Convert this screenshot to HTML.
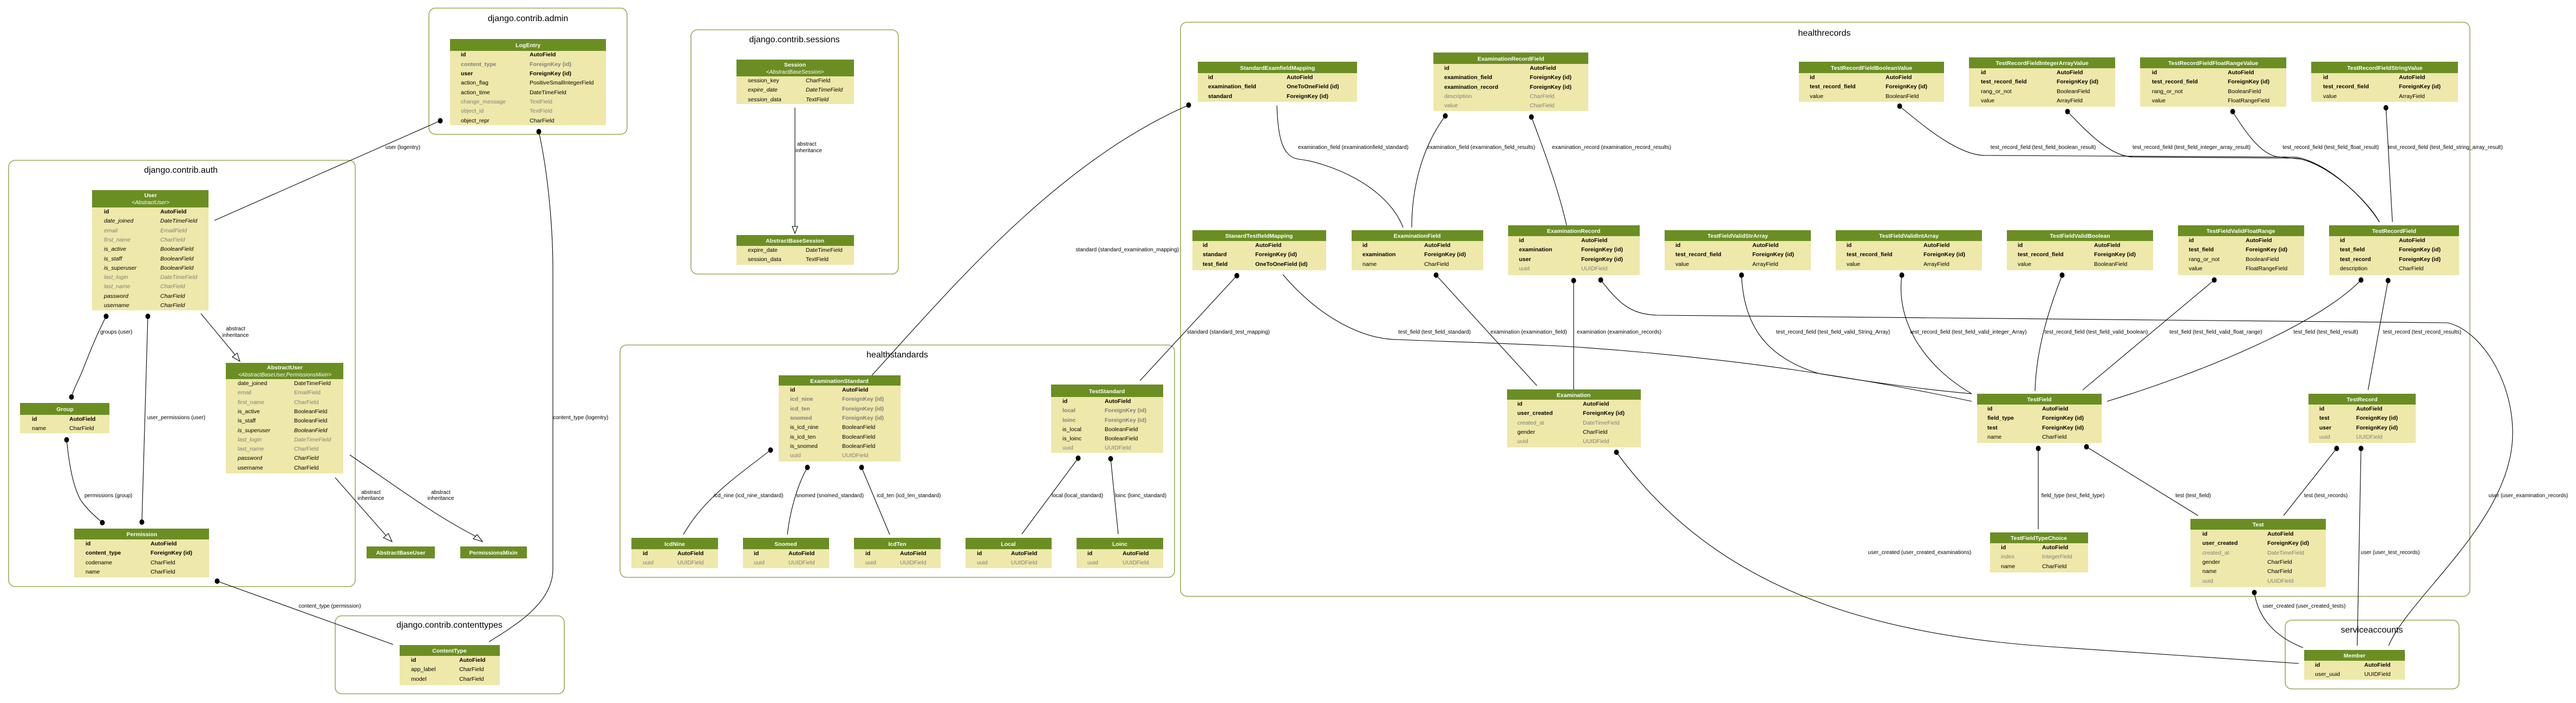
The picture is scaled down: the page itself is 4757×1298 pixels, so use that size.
<!DOCTYPE html>
<html><head><meta charset="utf-8"><style>
html,body{margin:0;padding:0;background:#fff;}
svg{display:block;font-family:"Liberation Sans",Arial,sans-serif;}
.t{font-size:10.5px;fill:#000;}
.b{font-weight:bold;}
.g{fill:#7f7f7f;}
.i{font-style:italic;}
.h{font-size:10.5px;font-weight:bold;fill:#fff;text-anchor:middle;}
.hs{font-size:10px;font-style:italic;fill:#fff;text-anchor:middle;}
.cl{fill:none;stroke:#98ac5a;stroke-width:1.6;}
.ct{font-size:16px;fill:#000;text-anchor:middle;}
.hd{fill:#6b8e23;}
.bd{fill:#eee8aa;}
.e{fill:none;stroke:#000;stroke-width:1.1;}
.l{font-size:10px;fill:#000;}
.lm{font-size:10px;fill:#000;text-anchor:middle;}
.le{font-size:10px;fill:#000;text-anchor:end;}
</style></head><body>
<svg width="4757" height="1298" viewBox="0 0 4757 1298" xmlns="http://www.w3.org/2000/svg">
<rect width="4757" height="1298" fill="#fff"/>

<!-- clusters -->
<rect class="cl" x="792" y="15" width="366" height="233" rx="12"/>
<text class="ct" x="975" y="39">django.contrib.admin</text>
<rect class="cl" x="1276" y="55" width="383" height="451" rx="12"/>
<text class="ct" x="1467" y="78">django.contrib.sessions</text>
<rect class="cl" x="16" y="296" width="640" height="787" rx="12"/>
<text class="ct" x="334" y="319">django.contrib.auth</text>
<rect class="cl" x="619" y="1137" width="423" height="144" rx="12"/>
<text class="ct" x="830" y="1159">django.contrib.contenttypes</text>
<rect class="cl" x="1145" y="637" width="1024" height="429" rx="12"/>
<text class="ct" x="1657" y="660">healthstandards</text>
<rect class="cl" x="2180" y="41" width="2381" height="1060" rx="12"/>
<text class="ct" x="3369" y="66">healthrecords</text>
<rect class="cl" x="4220" y="1145" width="321" height="127" rx="12"/>
<text class="ct" x="4380" y="1168">serviceaccounts</text>

<!-- edges -->
<g class="e">
<path d="M813,223 L396,407"/>
<path d="M995,243 C1012,320 1021,420 1021,497 L1021,1051 C1021,1110 960,1150 903,1185"/>
<path d="M1468,199 L1468,418"/>
<path d="M196,584 C175,625 160,665 150,690 C140,712 135,722 132,733"/>
<path d="M273,584 L262,964"/>
<path d="M371,579 L434,655"/>
<path d="M123,812 C128,860 135,900 150,925 C165,945 178,955 189,965"/>
<path d="M619,882 L713,989"/>
<path d="M646,840 C720,890 800,950 878,990"/>
<path d="M401,1073 L726,1190"/>
<path d="M1423,831 C1360,880 1300,920 1262,987"/>
<path d="M1491,863 C1470,900 1458,950 1454,987"/>
<path d="M1591,863 L1643,987"/>
<path d="M1991,846 L1887,986"/>
<path d="M2051,847 L2065,986"/>
<path d="M1610,693 C1750,540 1950,300 2195,194"/>
<path d="M2284,509 L2105,703"/>
<path d="M2358,195 C2360,260 2370,290 2399,294 C2450,300 2560,340 2591,420"/>
<path d="M2669,214 C2620,280 2607,360 2607,420"/>
<path d="M2828,216 C2860,300 2880,360 2893,416"/>
<path d="M3508,196 C3560,240 3620,287 3666,287 L4240,290 C4300,300 4370,370 4394,410"/>
<path d="M3818,206 C3860,250 3900,290 3941,290 L4240,292 C4300,300 4370,370 4394,410"/>
<path d="M4123,206 C4150,250 4180,290 4212,290 L4250,294 C4310,310 4375,375 4394,410"/>
<path d="M4406,199 L4418,410"/>
<path d="M2369,507 C2440,590 2520,627 2582,627 C2700,632 2765,633 2900,640 C3200,660 3450,700 3641,741"/>
<path d="M2652,508 L2838,712"/>
<path d="M2906,518 L2906,719"/>
<path d="M2956,517 C2990,560 3010,580 3060,582 L4520,596 C4580,610 4640,700 4640,800 C4640,960 4450,1100 4411,1192"/>
<path d="M3216,508 C3220,600 3260,660 3360,690 C3450,705 3560,720 3641,727"/>
<path d="M3512,508 C3500,600 3560,680 3641,727"/>
<path d="M3808,508 C3780,580 3760,650 3758,722"/>
<path d="M4089,517 L3846,720"/>
<path d="M4360,517 C4280,600 4060,690 3891,741"/>
<path d="M4410,518 L4373,720"/>
<path d="M3764,828 L3764,977"/>
<path d="M3853,825 L4059,952"/>
<path d="M4315,828 L4217,952"/>
<path d="M4360,828 L4353,1192"/>
<path d="M2985,835 C3150,1060 3400,1170 3800,1195 L4245,1225"/>
<path d="M4163,1094 C4170,1140 4200,1175 4253,1196"/>
</g>
<!-- dots -->
<g fill="#000">
<ellipse cx="813" cy="223" rx="4.5" ry="5"/>
<ellipse cx="995" cy="243" rx="4.5" ry="5"/>
<ellipse cx="196" cy="584" rx="4.5" ry="5"/>
<ellipse cx="132" cy="733" rx="4.5" ry="5"/>
<ellipse cx="273" cy="584" rx="4.5" ry="5"/>
<ellipse cx="262" cy="964" rx="4.5" ry="5"/>
<ellipse cx="123" cy="812" rx="4.5" ry="5"/>
<ellipse cx="189" cy="965" rx="4.5" ry="5"/>
<ellipse cx="401" cy="1073" rx="4.5" ry="5"/>
<ellipse cx="1423" cy="831" rx="4.5" ry="5"/>
<ellipse cx="1491" cy="863" rx="4.5" ry="5"/>
<ellipse cx="1591" cy="863" rx="4.5" ry="5"/>
<ellipse cx="1991" cy="846" rx="4.5" ry="5"/>
<ellipse cx="2051" cy="847" rx="4.5" ry="5"/>
<ellipse cx="2195" cy="194" rx="4.5" ry="5"/>
<ellipse cx="2284" cy="509" rx="4.5" ry="5"/>
<ellipse cx="2669" cy="214" rx="4.5" ry="5"/>
<ellipse cx="2828" cy="216" rx="4.5" ry="5"/>
<ellipse cx="3508" cy="196" rx="4.5" ry="5"/>
<ellipse cx="3818" cy="206" rx="4.5" ry="5"/>
<ellipse cx="4123" cy="206" rx="4.5" ry="5"/>
<ellipse cx="4406" cy="199" rx="4.5" ry="5"/>
<ellipse cx="2652" cy="508" rx="4.5" ry="5"/>
<ellipse cx="2906" cy="518" rx="4.5" ry="5"/>
<ellipse cx="2956" cy="517" rx="4.5" ry="5"/>
<ellipse cx="3216" cy="508" rx="4.5" ry="5"/>
<ellipse cx="3512" cy="508" rx="4.5" ry="5"/>
<ellipse cx="3808" cy="508" rx="4.5" ry="5"/>
<ellipse cx="4089" cy="517" rx="4.5" ry="5"/>
<ellipse cx="4360" cy="517" rx="4.5" ry="5"/>
<ellipse cx="4410" cy="518" rx="4.5" ry="5"/>
<ellipse cx="3764" cy="828" rx="4.5" ry="5"/>
<ellipse cx="3853" cy="825" rx="4.5" ry="5"/>
<ellipse cx="4315" cy="828" rx="4.5" ry="5"/>
<ellipse cx="4360" cy="828" rx="4.5" ry="5"/>
<ellipse cx="2985" cy="835" rx="4.5" ry="5"/>
<ellipse cx="4163" cy="1094" rx="4.5" ry="5"/>
</g>
<!-- hollow arrows -->
<g fill="#fff" stroke="#000" stroke-width="1.1">
<polygon points="1463,418 1473,418 1468,431"/>
<polygon points="429,659 438,652 443,667"/>
<polygon points="708,993 717,985 724,1000"/>
<polygon points="874,995 881,987 891,1000"/>
</g>

<!-- edge labels -->
<text class="lm" x="744" y="275">user (logentry)</text>
<text class="l" x="1021" y="774">content_type (logentry)</text>
<text class="l" x="1472" y="269">abstract</text><text class="l" x="1469" y="281">inheritance</text>
<text class="l" x="185" y="616">groups (user)</text>
<text class="l" x="272" y="774">user_permissions (user)</text>
<text class="lm" x="435" y="610">abstract</text><text class="lm" x="435" y="622">inheritance</text>
<text class="l" x="156" y="918">permissions (group)</text>
<text class="lm" x="685" y="912">abstract</text><text class="lm" x="685" y="923">inheritance</text>
<text class="lm" x="814" y="912">abstract</text><text class="lm" x="814" y="923">inheritance</text>
<text class="lm" x="609" y="1122">content_type (permission)</text>
<text class="l" x="1318" y="918">icd_nine (icd_nine_standard)</text>
<text class="l" x="1470" y="918">snomed (snomed_standard)</text>
<text class="l" x="1619" y="918">icd_ten (icd_ten_standard)</text>
<text class="l" x="1942" y="918">local (local_standard)</text>
<text class="l" x="2059" y="918">loinc (loinc_standard)</text>
<text class="le" x="2177" y="464">standard (standard_examination_mapping)</text>
<text class="l" x="2192" y="616">standard (standard_test_mapping)</text>
<text class="lm" x="2499" y="275">examination_field (examinationfield_standard)</text>
<text class="lm" x="2735" y="275">examination_field (examination_field_results)</text>
<text class="lm" x="2976" y="275">examination_record (examination_record_results)</text>
<text class="lm" x="3773" y="275">test_record_field (test_field_boolean_result)</text>
<text class="lm" x="4047" y="275">test_record_field (test_field_integer_array_result)</text>
<text class="lm" x="4304" y="275">test_record_field (test_field_float_result)</text>
<text class="l" x="4410" y="275">test_record_field (test_field_string_array_result)</text>
<text class="lm" x="2649" y="616">test_field (test_field_standard)</text>
<text class="lm" x="2823" y="616">examination (examination_field)</text>
<text class="lm" x="2990" y="616">examination (examination_records)</text>
<text class="lm" x="3385" y="616">test_record_field (test_field_valid_String_Array)</text>
<text class="lm" x="3635" y="616">test_record_field (test_field_valid_integer_Array)</text>
<text class="lm" x="3871" y="616">test_record_field (test_field_valid_boolean)</text>
<text class="lm" x="4092" y="616">test_field (test_field_valid_float_range)</text>
<text class="lm" x="4295" y="616">test_field (test_field_result)</text>
<text class="lm" x="4473" y="616">test_record (test_record_results)</text>
<text class="lm" x="4669" y="918">user (user_examination_records)</text>
<text class="lm" x="3828" y="918">field_type (test_field_type)</text>
<text class="lm" x="4050" y="918">test (test_field)</text>
<text class="lm" x="4295" y="918">test (test_records)</text>
<text class="lm" x="4414" y="1023">user (user_test_records)</text>
<text class="lm" x="3545" y="1023">user_created (user_created_examinations)</text>
<text class="lm" x="4255" y="1122">user_created (user_created_tests)</text>

<!-- ============ TABLES ============ -->
<!-- LogEntry -->
<rect class="hd" x="831" y="72" width="288" height="22"/><rect class="bd" x="831" y="94" width="288" height="137"/>
<text class="h" x="975" y="87">LogEntry</text>
<text class="t b" x="851" y="104">id</text><text class="t b" x="978" y="104">AutoField</text>
<text class="t b g" x="851" y="122">content_type</text><text class="t b g" x="978" y="122">ForeignKey (id)</text>
<text class="t b" x="851" y="139">user</text><text class="t b" x="978" y="139">ForeignKey (id)</text>
<text class="t" x="851" y="156">action_flag</text><text class="t" x="978" y="156">PositiveSmallIntegerField</text>
<text class="t" x="851" y="174">action_time</text><text class="t" x="978" y="174">DateTimeField</text>
<text class="t g" x="851" y="191">change_message</text><text class="t g" x="978" y="191">TextField</text>
<text class="t g" x="851" y="208">object_id</text><text class="t g" x="978" y="208">TextField</text>
<text class="t" x="851" y="226">object_repr</text><text class="t" x="978" y="226">CharField</text>

<!-- Session -->
<rect class="hd" x="1360" y="110" width="217" height="31"/><rect class="bd" x="1360" y="141" width="217" height="51"/>
<text class="h" x="1468" y="123">Session</text><text class="hs" x="1468" y="136">&lt;AbstractBaseSession&gt;</text>
<text class="t" x="1381" y="152">session_key</text><text class="t" x="1488" y="152">CharField</text>
<text class="t i" x="1381" y="169">expire_date</text><text class="t i" x="1488" y="169">DateTimeField</text>
<text class="t i" x="1381" y="187">session_data</text><text class="t i" x="1488" y="187">TextField</text>

<!-- AbstractBaseSession -->
<rect class="hd" x="1360" y="434" width="217" height="20"/><rect class="bd" x="1360" y="454" width="217" height="35"/>
<text class="h" x="1468" y="448">AbstractBaseSession</text>
<text class="t" x="1381" y="465">expire_date</text><text class="t" x="1488" y="465">DateTimeField</text>
<text class="t" x="1381" y="482">session_data</text><text class="t" x="1488" y="482">TextField</text>

<!-- User -->
<rect class="hd" x="170" y="351" width="215" height="32"/><rect class="bd" x="170" y="383" width="215" height="190"/>
<text class="h" x="278" y="364">User</text><text class="hs" x="278" y="377">&lt;AbstractUser&gt;</text>
<text class="t b" x="192" y="394">id</text><text class="t b" x="296" y="394">AutoField</text>
<text class="t i" x="192" y="411">date_joined</text><text class="t i" x="296" y="411">DateTimeField</text>
<text class="t i g" x="192" y="429">email</text><text class="t i g" x="296" y="429">EmailField</text>
<text class="t i g" x="192" y="446">first_name</text><text class="t i g" x="296" y="446">CharField</text>
<text class="t i" x="192" y="463">is_active</text><text class="t i" x="296" y="463">BooleanField</text>
<text class="t i" x="192" y="481">is_staff</text><text class="t i" x="296" y="481">BooleanField</text>
<text class="t i" x="192" y="498">is_superuser</text><text class="t i" x="296" y="498">BooleanField</text>
<text class="t i g" x="192" y="515">last_login</text><text class="t i g" x="296" y="515">DateTimeField</text>
<text class="t i g" x="192" y="532">last_name</text><text class="t i g" x="296" y="532">CharField</text>
<text class="t i" x="192" y="550">password</text><text class="t i" x="296" y="550">CharField</text>
<text class="t i" x="192" y="567">username</text><text class="t i" x="296" y="567">CharField</text>

<!-- Group -->
<rect class="hd" x="37" y="744" width="165" height="22"/><rect class="bd" x="37" y="766" width="165" height="34"/>
<text class="h" x="120" y="759">Group</text>
<text class="t b" x="59" y="777">id</text><text class="t b" x="128" y="777">AutoField</text>
<text class="t" x="59" y="794">name</text><text class="t" x="128" y="794">CharField</text>

<!-- AbstractUser -->
<rect class="hd" x="417" y="670" width="217" height="30"/><rect class="bd" x="417" y="700" width="217" height="174"/>
<text class="h" x="526" y="682">AbstractUser</text><text class="hs" x="526" y="695">&lt;AbstractBaseUser,PermissionsMixin&gt;</text>
<text class="t" x="439" y="711">date_joined</text><text class="t" x="543" y="711">DateTimeField</text>
<text class="t g" x="439" y="728">email</text><text class="t g" x="543" y="728">EmailField</text>
<text class="t g" x="439" y="746">first_name</text><text class="t g" x="543" y="746">CharField</text>
<text class="t" x="439" y="763">is_active</text><text class="t" x="543" y="763">BooleanField</text>
<text class="t" x="439" y="780">is_staff</text><text class="t" x="543" y="780">BooleanField</text>
<text class="t i" x="439" y="798">is_superuser</text><text class="t i" x="543" y="798">BooleanField</text>
<text class="t i g" x="439" y="815">last_login</text><text class="t i g" x="543" y="815">DateTimeField</text>
<text class="t g" x="439" y="832">last_name</text><text class="t g" x="543" y="832">CharField</text>
<text class="t i" x="439" y="849">password</text><text class="t i" x="543" y="849">CharField</text>
<text class="t" x="439" y="867">username</text><text class="t" x="543" y="867">CharField</text>

<!-- Permission -->
<rect class="hd" x="137" y="976" width="249" height="20"/><rect class="bd" x="137" y="996" width="249" height="70"/>
<text class="h" x="262" y="990">Permission</text>
<text class="t b" x="158" y="1007">id</text><text class="t b" x="278" y="1007">AutoField</text>
<text class="t b" x="158" y="1024">content_type</text><text class="t b" x="278" y="1024">ForeignKey (id)</text>
<text class="t" x="158" y="1042">codename</text><text class="t" x="278" y="1042">CharField</text>
<text class="t" x="158" y="1059">name</text><text class="t" x="278" y="1059">CharField</text>

<!-- AbstractBaseUser / PermissionsMixin -->
<rect class="hd" x="677" y="1009" width="126" height="22"/><text class="h" x="740" y="1024">AbstractBaseUser</text>
<rect class="hd" x="850" y="1009" width="123" height="22"/><text class="h" x="911" y="1024">PermissionsMixin</text>

<!-- ContentType -->
<rect class="hd" x="738" y="1191" width="185" height="20"/><rect class="bd" x="738" y="1211" width="185" height="54"/>
<text class="h" x="830" y="1205">ContentType</text>
<text class="t b" x="759" y="1222">id</text><text class="t b" x="848" y="1222">AutoField</text>
<text class="t" x="759" y="1239">app_label</text><text class="t" x="848" y="1239">CharField</text>
<text class="t" x="759" y="1257">model</text><text class="t" x="848" y="1257">CharField</text>

<!-- ExaminationStandard -->
<rect class="hd" x="1438" y="693" width="225" height="19"/><rect class="bd" x="1438" y="712" width="225" height="140"/>
<text class="h" x="1550" y="707">ExaminationStandard</text>
<text class="t b" x="1459" y="723">id</text><text class="t b" x="1555" y="723">AutoField</text>
<text class="t b g" x="1459" y="740">icd_nine</text><text class="t b g" x="1555" y="740">ForeignKey (id)</text>
<text class="t b g" x="1459" y="758">icd_ten</text><text class="t b g" x="1555" y="758">ForeignKey (id)</text>
<text class="t b g" x="1459" y="775">snomed</text><text class="t b g" x="1555" y="775">ForeignKey (id)</text>
<text class="t" x="1459" y="792">is_icd_nine</text><text class="t" x="1555" y="792">BooleanField</text>
<text class="t" x="1459" y="810">is_icd_ten</text><text class="t" x="1555" y="810">BooleanField</text>
<text class="t" x="1459" y="827">is_snomed</text><text class="t" x="1555" y="827">BooleanField</text>
<text class="t g" x="1459" y="844">uuid</text><text class="t g" x="1555" y="844">UUIDField</text>

<!-- IcdNine, Snomed, IcdTen, Local, Loinc -->
<rect class="hd" x="1166" y="993" width="160" height="21"/><rect class="bd" x="1166" y="1014" width="160" height="35"/>
<text class="h" x="1246" y="1008">IcdNine</text>
<text class="t b" x="1187" y="1025">id</text><text class="t b" x="1251" y="1025">AutoField</text>
<text class="t g" x="1187" y="1042">uuid</text><text class="t g" x="1251" y="1042">UUIDField</text>
<rect class="hd" x="1372" y="993" width="159" height="21"/><rect class="bd" x="1372" y="1014" width="159" height="35"/>
<text class="h" x="1451" y="1008">Snomed</text>
<text class="t b" x="1392" y="1025">id</text><text class="t b" x="1456" y="1025">AutoField</text>
<text class="t g" x="1392" y="1042">uuid</text><text class="t g" x="1456" y="1042">UUIDField</text>
<rect class="hd" x="1577" y="993" width="160" height="21"/><rect class="bd" x="1577" y="1014" width="160" height="35"/>
<text class="h" x="1657" y="1008">IcdTen</text>
<text class="t b" x="1598" y="1025">id</text><text class="t b" x="1662" y="1025">AutoField</text>
<text class="t g" x="1598" y="1042">uuid</text><text class="t g" x="1662" y="1042">UUIDField</text>
<rect class="hd" x="1783" y="993" width="159" height="21"/><rect class="bd" x="1783" y="1014" width="159" height="35"/>
<text class="h" x="1862" y="1008">Local</text>
<text class="t b" x="1804" y="1025">id</text><text class="t b" x="1867" y="1025">AutoField</text>
<text class="t g" x="1804" y="1042">uuid</text><text class="t g" x="1867" y="1042">UUIDField</text>
<rect class="hd" x="1988" y="993" width="160" height="21"/><rect class="bd" x="1988" y="1014" width="160" height="35"/>
<text class="h" x="2068" y="1008">Loinc</text>
<text class="t b" x="2008" y="1025">id</text><text class="t b" x="2073" y="1025">AutoField</text>
<text class="t g" x="2008" y="1042">uuid</text><text class="t g" x="2073" y="1042">UUIDField</text>

<!-- TestStandard -->
<rect class="hd" x="1941" y="710" width="207" height="23"/><rect class="bd" x="1941" y="733" width="207" height="103"/>
<text class="h" x="2044" y="726">TestStandard</text>
<text class="t b" x="1962" y="744">id</text><text class="t b" x="2040" y="744">AutoField</text>
<text class="t b g" x="1962" y="761">local</text><text class="t b g" x="2040" y="761">ForeignKey (id)</text>
<text class="t b g" x="1962" y="779">loinc</text><text class="t b g" x="2040" y="779">ForeignKey (id)</text>
<text class="t" x="1962" y="796">is_local</text><text class="t" x="2040" y="796">BooleanField</text>
<text class="t" x="1962" y="813">is_loinc</text><text class="t" x="2040" y="813">BooleanField</text>
<text class="t g" x="1962" y="830">uuid</text><text class="t g" x="2040" y="830">UUIDField</text>

<!-- StandardExamfieldMapping -->
<rect class="hd" x="2212" y="114" width="294" height="21"/><rect class="bd" x="2212" y="135" width="294" height="53"/>
<text class="h" x="2359" y="129">StandardExamfieldMapping</text>
<text class="t b" x="2231" y="146">id</text><text class="t b" x="2376" y="146">AutoField</text>
<text class="t b" x="2231" y="163">examination_field</text><text class="t b" x="2376" y="163">OneToOneField (id)</text>
<text class="t b" x="2231" y="181">standard</text><text class="t b" x="2376" y="181">ForeignKey (id)</text>

<!-- ExaminationRecordField -->
<rect class="hd" x="2647" y="97" width="286" height="21"/><rect class="bd" x="2647" y="118" width="286" height="87"/>
<text class="h" x="2790" y="112">ExaminationRecordField</text>
<text class="t b" x="2667" y="129">id</text><text class="t b" x="2825" y="129">AutoField</text>
<text class="t b" x="2667" y="146">examination_field</text><text class="t b" x="2825" y="146">ForeignKey (id)</text>
<text class="t b" x="2667" y="164">examination_record</text><text class="t b" x="2825" y="164">ForeignKey (id)</text>
<text class="t g" x="2667" y="181">description</text><text class="t g" x="2825" y="181">CharField</text>
<text class="t g" x="2667" y="198">value</text><text class="t g" x="2825" y="198">CharField</text>

<!-- TestRecordFieldBooleanValue -->
<rect class="hd" x="3322" y="114" width="268" height="21"/><rect class="bd" x="3322" y="135" width="268" height="53"/>
<text class="h" x="3456" y="129">TestRecordFieldBooleanValue</text>
<text class="t b" x="3342" y="146">id</text><text class="t b" x="3482" y="146">AutoField</text>
<text class="t b" x="3342" y="163">test_record_field</text><text class="t b" x="3482" y="163">ForeignKey (id)</text>
<text class="t" x="3342" y="181">value</text><text class="t" x="3482" y="181">BooleanField</text>

<!-- TestRecordFieldIntegerArrayValue -->
<rect class="hd" x="3636" y="106" width="270" height="20"/><rect class="bd" x="3636" y="126" width="270" height="71"/>
<text class="h" x="3771" y="120">TestRecordFieldIntegerArrayValue</text>
<text class="t b" x="3658" y="137">id</text><text class="t b" x="3798" y="137">AutoField</text>
<text class="t b" x="3658" y="154">test_record_field</text><text class="t b" x="3798" y="154">ForeignKey (id)</text>
<text class="t" x="3658" y="172">rang_or_not</text><text class="t" x="3798" y="172">BooleanField</text>
<text class="t" x="3658" y="189">value</text><text class="t" x="3798" y="189">ArrayField</text>

<!-- TestRecordFieldFloatRangeValue -->
<rect class="hd" x="3952" y="106" width="270" height="20"/><rect class="bd" x="3952" y="126" width="270" height="71"/>
<text class="h" x="4087" y="120">TestRecordFieldFloatRangeValue</text>
<text class="t b" x="3974" y="137">id</text><text class="t b" x="4114" y="137">AutoField</text>
<text class="t b" x="3974" y="154">test_record_field</text><text class="t b" x="4114" y="154">ForeignKey (id)</text>
<text class="t" x="3974" y="172">rang_or_not</text><text class="t" x="4114" y="172">BooleanField</text>
<text class="t" x="3974" y="189">value</text><text class="t" x="4114" y="189">FloatRangeField</text>

<!-- TestRecordFieldStringValue -->
<rect class="hd" x="4268" y="114" width="271" height="21"/><rect class="bd" x="4268" y="135" width="271" height="53"/>
<text class="h" x="4404" y="129">TestRecordFieldStringValue</text>
<text class="t b" x="4290" y="146">id</text><text class="t b" x="4430" y="146">AutoField</text>
<text class="t b" x="4290" y="163">test_record_field</text><text class="t b" x="4430" y="163">ForeignKey (id)</text>
<text class="t" x="4290" y="181">value</text><text class="t" x="4430" y="181">ArrayField</text>

<!-- StanardTestfieldMapping -->
<rect class="hd" x="2202" y="425" width="247" height="20"/><rect class="bd" x="2202" y="445" width="247" height="54"/>
<text class="h" x="2325" y="439">StanardTestfieldMapping</text>
<text class="t b" x="2221" y="456">id</text><text class="t b" x="2318" y="456">AutoField</text>
<text class="t b" x="2221" y="473">standard</text><text class="t b" x="2318" y="473">ForeignKey (id)</text>
<text class="t b" x="2221" y="491">test_field</text><text class="t b" x="2318" y="491">OneToOneField (id)</text>

<!-- ExaminationField -->
<rect class="hd" x="2496" y="425" width="243" height="20"/><rect class="bd" x="2496" y="445" width="243" height="54"/>
<text class="h" x="2617" y="439">ExaminationField</text>
<text class="t b" x="2516" y="456">id</text><text class="t b" x="2630" y="456">AutoField</text>
<text class="t b" x="2516" y="473">examination</text><text class="t b" x="2630" y="473">ForeignKey (id)</text>
<text class="t" x="2516" y="491">name</text><text class="t" x="2630" y="491">CharField</text>

<!-- ExaminationRecord -->
<rect class="hd" x="2785" y="416" width="243" height="20"/><rect class="bd" x="2785" y="436" width="243" height="72"/>
<text class="h" x="2906" y="430">ExaminationRecord</text>
<text class="t b" x="2805" y="447">id</text><text class="t b" x="2920" y="447">AutoField</text>
<text class="t b" x="2805" y="464">examination</text><text class="t b" x="2920" y="464">ForeignKey (id)</text>
<text class="t b" x="2805" y="482">user</text><text class="t b" x="2920" y="482">ForeignKey (id)</text>
<text class="t g" x="2805" y="499">uuid</text><text class="t g" x="2920" y="499">UUIDField</text>

<!-- TestFieldValidStrArray -->
<rect class="hd" x="3074" y="425" width="270" height="20"/><rect class="bd" x="3074" y="445" width="270" height="54"/>
<text class="h" x="3209" y="439">TestFieldValidStrArray</text>
<text class="t b" x="3094" y="456">id</text><text class="t b" x="3236" y="456">AutoField</text>
<text class="t b" x="3094" y="473">test_record_field</text><text class="t b" x="3236" y="473">ForeignKey (id)</text>
<text class="t" x="3094" y="491">value</text><text class="t" x="3236" y="491">ArrayField</text>

<!-- TestFieldValidIntArray -->
<rect class="hd" x="3390" y="425" width="270" height="20"/><rect class="bd" x="3390" y="445" width="270" height="54"/>
<text class="h" x="3525" y="439">TestFieldValidIntArray</text>
<text class="t b" x="3410" y="456">id</text><text class="t b" x="3552" y="456">AutoField</text>
<text class="t b" x="3410" y="473">test_record_field</text><text class="t b" x="3552" y="473">ForeignKey (id)</text>
<text class="t" x="3410" y="491">value</text><text class="t" x="3552" y="491">ArrayField</text>

<!-- TestFieldValidBoolean -->
<rect class="hd" x="3706" y="425" width="270" height="20"/><rect class="bd" x="3706" y="445" width="270" height="54"/>
<text class="h" x="3841" y="439">TestFieldValidBoolean</text>
<text class="t b" x="3726" y="456">id</text><text class="t b" x="3867" y="456">AutoField</text>
<text class="t b" x="3726" y="473">test_record_field</text><text class="t b" x="3867" y="473">ForeignKey (id)</text>
<text class="t" x="3726" y="491">value</text><text class="t" x="3867" y="491">BooleanField</text>

<!-- TestFieldValidFloatRange -->
<rect class="hd" x="4022" y="416" width="233" height="20"/><rect class="bd" x="4022" y="436" width="233" height="72"/>
<text class="h" x="4138" y="430">TestFieldValidFloatRange</text>
<text class="t b" x="4042" y="447">id</text><text class="t b" x="4147" y="447">AutoField</text>
<text class="t b" x="4042" y="464">test_field</text><text class="t b" x="4147" y="464">ForeignKey (id)</text>
<text class="t" x="4042" y="482">rang_or_not</text><text class="t" x="4147" y="482">BooleanField</text>
<text class="t" x="4042" y="499">value</text><text class="t" x="4147" y="499">FloatRangeField</text>

<!-- TestRecordField -->
<rect class="hd" x="4301" y="416" width="240" height="20"/><rect class="bd" x="4301" y="436" width="240" height="72"/>
<text class="h" x="4421" y="430">TestRecordField</text>
<text class="t b" x="4321" y="447">id</text><text class="t b" x="4430" y="447">AutoField</text>
<text class="t b" x="4321" y="464">test_field</text><text class="t b" x="4430" y="464">ForeignKey (id)</text>
<text class="t b" x="4321" y="482">test_record</text><text class="t b" x="4430" y="482">ForeignKey (id)</text>
<text class="t" x="4321" y="499">description</text><text class="t" x="4430" y="499">CharField</text>

<!-- Examination -->
<rect class="hd" x="2783" y="719" width="247" height="19"/><rect class="bd" x="2783" y="738" width="247" height="88"/>
<text class="h" x="2906" y="733">Examination</text>
<text class="t b" x="2802" y="749">id</text><text class="t b" x="2923" y="749">AutoField</text>
<text class="t b" x="2802" y="766">user_created</text><text class="t b" x="2923" y="766">ForeignKey (id)</text>
<text class="t g" x="2802" y="784">created_at</text><text class="t g" x="2923" y="784">DateTimeField</text>
<text class="t" x="2802" y="801">gender</text><text class="t" x="2923" y="801">CharField</text>
<text class="t g" x="2802" y="818">uuid</text><text class="t g" x="2923" y="818">UUIDField</text>

<!-- TestField -->
<rect class="hd" x="3651" y="727" width="230" height="20"/><rect class="bd" x="3651" y="747" width="230" height="71"/>
<text class="h" x="3766" y="741">TestField</text>
<text class="t b" x="3670" y="758">id</text><text class="t b" x="3771" y="758">AutoField</text>
<text class="t b" x="3670" y="775">field_type</text><text class="t b" x="3771" y="775">ForeignKey (id)</text>
<text class="t b" x="3670" y="793">test</text><text class="t b" x="3771" y="793">ForeignKey (id)</text>
<text class="t" x="3670" y="810">name</text><text class="t" x="3771" y="810">CharField</text>

<!-- TestRecord -->
<rect class="hd" x="4263" y="727" width="198" height="20"/><rect class="bd" x="4263" y="747" width="198" height="71"/>
<text class="h" x="4362" y="741">TestRecord</text>
<text class="t b" x="4283" y="758">id</text><text class="t b" x="4351" y="758">AutoField</text>
<text class="t b" x="4283" y="775">test</text><text class="t b" x="4351" y="775">ForeignKey (id)</text>
<text class="t b" x="4283" y="793">user</text><text class="t b" x="4351" y="793">ForeignKey (id)</text>
<text class="t g" x="4283" y="810">uuid</text><text class="t g" x="4351" y="810">UUIDField</text>

<!-- TestFieldTypeChoice -->
<rect class="hd" x="3675" y="983" width="181" height="20"/><rect class="bd" x="3675" y="1003" width="181" height="54"/>
<text class="h" x="3765" y="997">TestFieldTypeChoice</text>
<text class="t b" x="3695" y="1014">id</text><text class="t b" x="3771" y="1014">AutoField</text>
<text class="t g" x="3695" y="1031">index</text><text class="t g" x="3771" y="1031">IntegerField</text>
<text class="t" x="3695" y="1049">name</text><text class="t" x="3771" y="1049">CharField</text>

<!-- Test -->
<rect class="hd" x="4045" y="958" width="250" height="20"/><rect class="bd" x="4045" y="978" width="250" height="106"/>
<text class="h" x="4170" y="972">Test</text>
<text class="t b" x="4067" y="989">id</text><text class="t b" x="4187" y="989">AutoField</text>
<text class="t b" x="4067" y="1006">user_created</text><text class="t b" x="4187" y="1006">ForeignKey (id)</text>
<text class="t g" x="4067" y="1024">created_at</text><text class="t g" x="4187" y="1024">DateTimeField</text>
<text class="t" x="4067" y="1041">gender</text><text class="t" x="4187" y="1041">CharField</text>
<text class="t" x="4067" y="1058">name</text><text class="t" x="4187" y="1058">CharField</text>
<text class="t g" x="4067" y="1076">uuid</text><text class="t g" x="4187" y="1076">UUIDField</text>

<!-- Member -->
<rect class="hd" x="4255" y="1200" width="186" height="20"/><rect class="bd" x="4255" y="1220" width="186" height="35"/>
<text class="h" x="4348" y="1214">Member</text>
<text class="t b" x="4275" y="1231">id</text><text class="t b" x="4366" y="1231">AutoField</text>
<text class="t" x="4275" y="1248">user_uuid</text><text class="t" x="4366" y="1248">UUIDField</text>
</svg>
</body></html>
